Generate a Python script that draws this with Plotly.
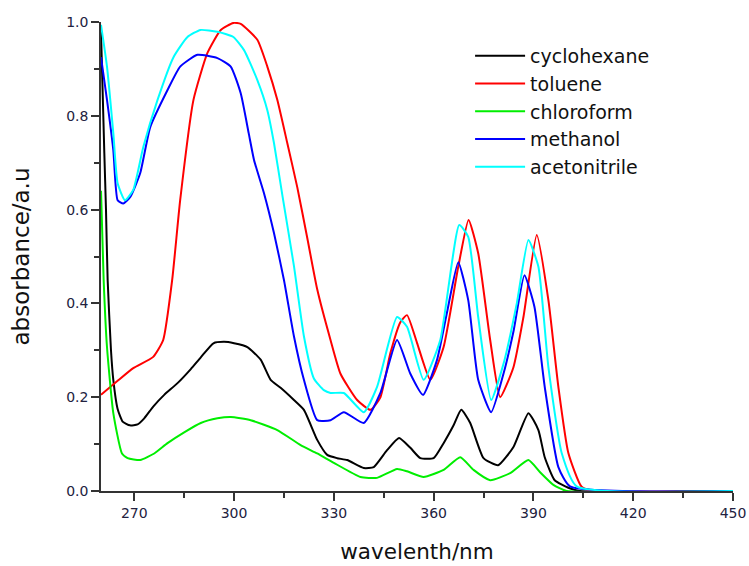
import plotly.graph_objects as go

# ---- data ----
cyclohexane_x = [260, 260.5, 261, 261.5, 262, 263, 263.7, 265, 266.5, 268.7, 271, 273, 275.7, 279, 283, 287, 290, 293.8, 297, 300, 304, 308, 311, 314, 318, 321, 325, 328, 331, 334, 339, 342, 346, 349.6, 353, 356, 360, 363, 366, 368.3, 371, 375, 379.4, 384, 388.5, 391.5, 393.4, 396.4, 400.5, 404, 450]
cyclohexane_y = [0.98, 0.85, 0.72, 0.6, 0.45, 0.3, 0.237, 0.175, 0.148, 0.14, 0.142, 0.155, 0.18, 0.205, 0.23, 0.26, 0.285, 0.315, 0.318, 0.315, 0.307, 0.28, 0.237, 0.22, 0.194, 0.173, 0.109, 0.077, 0.07, 0.066, 0.049, 0.051, 0.087, 0.113, 0.092, 0.07, 0.07, 0.102, 0.14, 0.173, 0.145, 0.07, 0.055, 0.094, 0.166, 0.13, 0.072, 0.023, 0.007, 0.0, 0.0]

toluene_x = [260, 265, 269.7, 275.7, 278.7, 281.4, 283.8, 287.8, 292, 296, 299.8, 302, 307, 310, 313, 316, 319, 322, 325, 329, 332, 337, 341, 344, 347, 350, 352, 355, 359, 363, 367.4, 370.5, 373.4, 377, 380, 384, 387, 391, 394.5, 397.5, 400.5, 404.5, 408.4, 450]
toluene_y = [0.205, 0.235, 0.262, 0.286, 0.322, 0.45, 0.62, 0.834, 0.934, 0.983, 0.998, 0.996, 0.962, 0.905, 0.834, 0.742, 0.648, 0.54, 0.43, 0.322, 0.25, 0.194, 0.173, 0.2, 0.294, 0.36, 0.375, 0.316, 0.237, 0.307, 0.478, 0.578, 0.507, 0.322, 0.2, 0.264, 0.371, 0.546, 0.407, 0.222, 0.081, 0.009, 0.0, 0.0]

chloroform_x = [260, 260.8, 261.8, 263.7, 266.3, 268, 271.8, 276, 280, 285, 290, 295, 299, 305, 313, 320, 325, 330, 338, 343, 349, 352, 357, 363, 368, 372, 377, 383, 388.5, 392, 396, 400, 450]
chloroform_y = [0.64, 0.45, 0.307, 0.166, 0.08, 0.07, 0.066, 0.08, 0.102, 0.125, 0.145, 0.155, 0.158, 0.151, 0.13, 0.098, 0.08, 0.06, 0.03, 0.028, 0.047, 0.042, 0.03, 0.045, 0.072, 0.045, 0.023, 0.038, 0.066, 0.04, 0.013, 0.0, 0.0]

methanol_x = [260, 261.8, 263.7, 265, 266.7, 268.8, 271.8, 274.8, 280, 283.8, 289, 295, 299, 302, 304.4, 306, 309, 312, 315, 318, 321, 325, 329, 333, 339, 344, 349, 353, 356.8, 361, 364, 367.4, 370.4, 373.4, 377.3, 381, 384, 387.3, 390.3, 393.4, 397.5, 401, 450]
methanol_y = [0.925, 0.834, 0.727, 0.62, 0.613, 0.627, 0.678, 0.776, 0.855, 0.905, 0.93, 0.923, 0.905, 0.848, 0.763, 0.706, 0.635, 0.55, 0.45, 0.33, 0.237, 0.151, 0.151, 0.168, 0.145, 0.209, 0.322, 0.25, 0.205, 0.279, 0.38, 0.488, 0.407, 0.237, 0.168, 0.25, 0.34, 0.46, 0.393, 0.222, 0.051, 0.01, 0.0]

acetonitrile_x = [260, 261.8, 263.7, 265, 267.2, 269.7, 272.7, 277, 281.8, 286, 289.9, 295, 299.8, 303, 307, 310, 312, 314.6, 318, 321, 324, 327, 329, 333, 339, 343, 349, 352, 357, 362, 367.7, 370.4, 373.4, 377.3, 381.3, 385, 388.5, 391.5, 394.5, 398.5, 403, 450]
acetonitrile_y = [0.994, 0.905, 0.763, 0.656, 0.62, 0.642, 0.733, 0.834, 0.925, 0.968, 0.983, 0.979, 0.968, 0.94, 0.876, 0.812, 0.742, 0.627, 0.48, 0.33, 0.24, 0.215, 0.209, 0.209, 0.168, 0.222, 0.371, 0.35, 0.237, 0.322, 0.567, 0.542, 0.371, 0.194, 0.279, 0.4, 0.535, 0.478, 0.264, 0.081, 0.01, 0.0]

x_ticks = [270, 300, 330, 360, 390, 420, 450]
y_ticks = [0.0, 0.2, 0.4, 0.6, 0.8, 1.0]

series = [
    ("cyclohexane", cyclohexane_x, cyclohexane_y, "#000000"),
    ("toluene", toluene_x, toluene_y, "#ff0000"),
    ("chloroform", chloroform_x, chloroform_y, "#00ee00"),
    ("methanol", methanol_x, methanol_y, "#0000ff"),
    ("acetonitrile", acetonitrile_x, acetonitrile_y, "#00ffff"),
]

fig = go.Figure()
for name, xs, ys, col in series:
    fig.add_trace(go.Scatter(x=xs, y=ys, mode="lines", name=name, legendgroup=name,
                             line=dict(color=col, width=2, shape="spline", smoothing=0.5)))

tick_font = dict(family="DejaVu Sans", size=14, color="#222240")
axis_common = dict(showline=True, linecolor="#333333", linewidth=1.5, showgrid=False,
                   zeroline=False, ticks="outside", ticklen=8, tickwidth=1.5,
                   tickcolor="#333333", tickfont=tick_font, automargin=False)

fig.update_layout(
    width=749, height=566,
    margin=dict(l=101, r=16, t=22, b=75),
    plot_bgcolor="white", paper_bgcolor="white",
    showlegend=True,
    legend=dict(x=0.584, y=0.968, xanchor="left", yanchor="top",
                font=dict(family="DejaVu Sans", size=19, color="#111111"),
                bgcolor="rgba(0,0,0,0)", itemwidth=50, tracegroupgap=3,
                traceorder="normal"),
    xaxis=dict(range=[260, 450], tickvals=x_ticks, ticktext=[str(v) for v in x_ticks],
               minor=dict(tickvals=[285, 315, 345, 375, 405, 435], ticklen=5,
                          tickwidth=1.5, tickcolor="#333333", ticks="outside"),
               title=dict(text="wavelenth/nm", font=dict(family="DejaVu Sans", size=21.5, color="#111111"),
                          standoff=24),
               **axis_common),
    yaxis=dict(range=[0, 1.0], tickvals=y_ticks, ticktext=[f"{v:.1f}" for v in y_ticks],
               minor=dict(tickvals=[0.1, 0.3, 0.5, 0.7, 0.9], ticklen=5,
                          tickwidth=1.5, tickcolor="#333333", ticks="outside"),
               title=dict(text="absorbance/a.u", font=dict(family="DejaVu Sans", size=23, color="#111111"),
                          standoff=30),
               **axis_common),
)

fig.write_html("out.html")
